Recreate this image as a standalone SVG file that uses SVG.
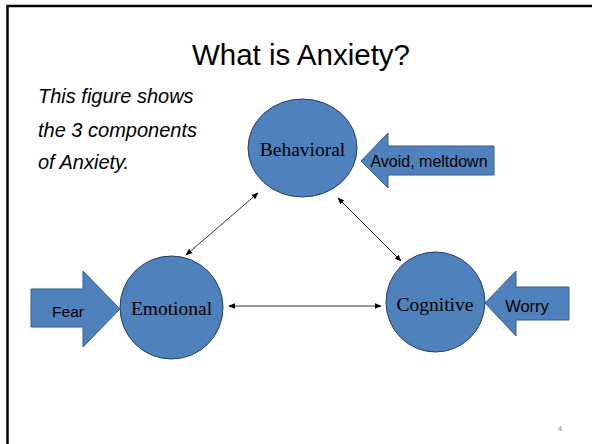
<svg xmlns="http://www.w3.org/2000/svg" width="592" height="444" viewBox="0 0 592 444">
<style>
.node{fill:#4F81BD;stroke:#26405f;stroke-width:1}
.blk{fill:#4F81BD;stroke:#385D8A;stroke-width:1}
.serif{font-family:"Liberation Serif","Times New Roman",serif;font-size:19.5px;fill:#000}
.sans{font-family:"Liberation Sans",Arial,sans-serif;fill:#000}
.conn{stroke:#000;stroke-width:0.8;fill:none;marker-start:url(#ah);marker-end:url(#ah)}
</style>
<defs>
<marker id="ah" viewBox="0 0 10 10" refX="9" refY="5" markerWidth="7" markerHeight="7" markerUnits="userSpaceOnUse" orient="auto-start-reverse">
<path d="M0,1 L10,5 L0,9 z" fill="#000"/>
</marker>
</defs>
<rect x="0" y="0" width="592" height="444" fill="#fff"/>
<path d="M7.5,444 V6 H592" fill="none" stroke="#000" stroke-width="2.5"/>
<text class="sans" x="301" y="65" font-size="29.5" text-anchor="middle">What is Anxiety?</text>
<g class="sans" font-size="20" font-style="italic">
<text x="38" y="103">This figure shows</text>
<text x="38" y="137">the 3 components</text>
<text x="38" y="169">of Anxiety.</text>
</g>
<g id="connectors">
<line class="conn" x1="186" y1="255" x2="258" y2="193"/>
<line class="conn" x1="338" y1="198" x2="401" y2="261"/>
<line class="conn" x1="229" y1="306" x2="381" y2="306"/>
</g>
<g id="behavioral">
<ellipse class="node" cx="302.5" cy="148" rx="54.5" ry="49"/>
<text class="serif" x="302.5" y="156" text-anchor="middle">Behavioral</text>
</g>
<g id="emotional">
<ellipse class="node" cx="171.5" cy="307.5" rx="51.5" ry="51.5"/>
<text class="serif" x="171.5" y="315" text-anchor="middle">Emotional</text>
</g>
<g id="cognitive">
<ellipse class="node" cx="435.5" cy="302" rx="49.5" ry="50"/>
<text class="serif" x="435" y="311" text-anchor="middle">Cognitive</text>
</g>
<g id="avoid">
<path class="blk" d="M361,161 L388,133 L388,146 L494,146 L494,175 L388,175 L388,188 Z"/>
<text class="sans" x="429" y="167" font-size="16" text-anchor="middle">Avoid, meltdown</text>
</g>
<g id="fear">
<path class="blk" d="M31,289 L83,289 L83,271 L120,309 L83,347 L83,327 L31,327 Z"/>
<text class="sans" x="68" y="317" font-size="15.5" text-anchor="middle">Fear</text>
</g>
<g id="worry">
<path class="blk" d="M485,303 L516,271 L516,287 L569,287 L569,320 L516,320 L516,336 Z"/>
<text class="sans" x="527" y="312" font-size="16.5" text-anchor="middle">Worry</text>
</g>
<text class="sans" x="560" y="431" font-size="8" fill="#8c8c8c" text-anchor="middle" style="fill:#8c8c8c">4</text>
</svg>
